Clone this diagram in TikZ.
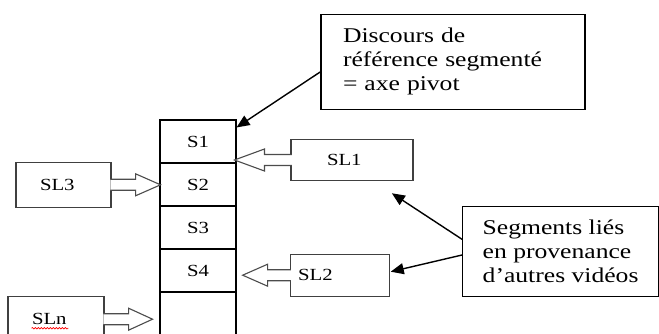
\documentclass[tikz,border=0pt]{standalone}
\usepackage{fontspec}
\setmainfont[FakeStretch=1.22]{Liberation Serif}
\usetikzlibrary{calc, arrows.meta, decorations.pathmorphing}

\newcommand{\BlockArrow}[3]{%
  \draw[flecheblanche] ($(#1)+({-0.05*(#2)},-5.5)$) -- ++({1.05*(#2)},0) -- ++(0,-5.5)
    -- ++(#3,11) -- ++({-(#3)},11) -- ++(0,-5.5) -- ++({-1.05*(#2)},0);}

\tikzset{
  case/.style={draw, line width=1.1pt, minimum width=76pt, minimum height=43pt,
               font=\fontsize{17}{20}\selectfont},
  lien/.style={draw=black!75, line width=1.1pt, align=left,
               font=\fontsize{17}{20}\selectfont},
  note/.style={draw, line width=1.1pt, align=left, font=\fontsize{21}{24}\selectfont},
  flecheblanche/.style={draw=black!70, line width=1.1pt, fill=white},
  fleche/.style={line width=1.4pt, -{Triangle[length=13pt,width=11pt]}},
}

\begin{document}
\begin{tikzpicture}[x=1pt, y=-1pt]
  \useasboundingbox (0,0) rectangle (659,334);
  \clip (0,0) rectangle (659,334);

  \node[case] (s1) at (198,141.5) {S1};
  \node[case] (s2) at (198,184.5) {S2};
  \node[case] (s3) at (198,227.5) {S3};
  \node[case] (s4) at (198,270.5) {S4};
  \node[case] (s5) at (198,313.5) {};

  \node[lien, inner xsep=24pt, text width=47pt, minimum height=45pt] (sl3) at (63.5,184.8) {SL3};
  \node[lien, inner xsep=24pt, text width=48pt, minimum height=45pt] (sln) at (56,319.2) {SLn};
  \node[lien, inner xsep=36pt, text width=50pt, minimum height=41.4pt] (sl1) at (352,160) {SL1};
  \node[lien, inner xsep=8pt, text width=83pt, minimum height=41.7pt] (sl2) at (339.7,275.2) {SL2};

  \node[note, inner xsep=22pt, text width=220pt, minimum height=95pt] (disc) at (453,61.8)
    {Discours de\\référence segmenté\\= axe pivot};
  \node[note, minimum width=196pt, minimum height=90pt] (seg) at (560.6,251.7)
    {Segments liés\\en provenance\\d’autres vidéos};

  \draw[red, line width=0.6pt, decorate, decoration={snake, amplitude=0.8pt, segment length=3pt}]
    ($(sln.base west)+(24,3.5)$) -- ++(37,0);

  \BlockArrow{sl3.east}{24}{25}
  \BlockArrow{sln.east}{24}{24}
  \BlockArrow{sl1.west}{-26}{-30}
  \BlockArrow{sl2.west}{-22}{-25}

  \draw[fleche] ($(disc.west)+(0,10)$) -- ($(s1.north east)+(0,8)$);
  \draw[fleche] ($(seg.west)+(0,-12.4)$) -- ($(sl1.south east)+(-21.7,12)$);
  \draw[fleche] ($(seg.west)+(0,3.3)$) -- ($(sl2.east)+(1,-3.5)$);
\end{tikzpicture}
\end{document}
